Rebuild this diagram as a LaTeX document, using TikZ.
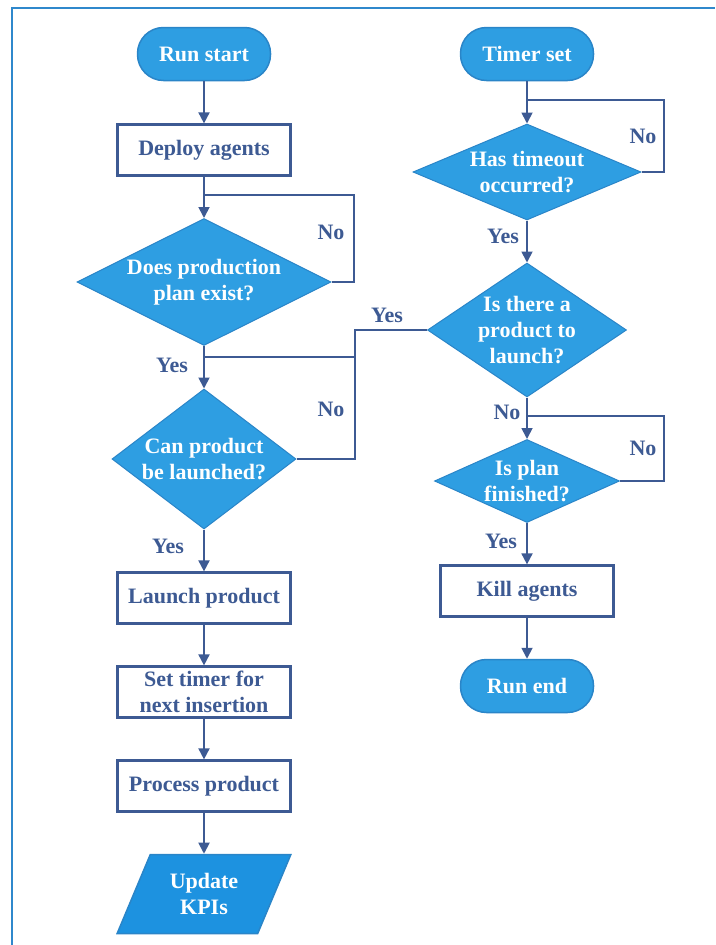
\documentclass[tikz,border=0pt]{standalone}
\usepackage{fontspec}
\setmainfont{Liberation Serif}
\usetikzlibrary{shapes.geometric,arrows.meta}
\definecolor{flowfill}{HTML}{2E9EE2}
\definecolor{flowedge}{HTML}{2A85C8}
\definecolor{inkblue}{HTML}{3D5A93}
\definecolor{kpifill}{HTML}{1D92E0}
\definecolor{framecol}{HTML}{2F88CC}
\tikzset{
  every node/.style={font=\fontsize{22}{26}\selectfont\bfseries},
  terminal/.style={rectangle, rounded corners=26pt, fill=flowfill, draw=flowedge,
    line width=1.5pt, text=white, minimum width=133pt, minimum height=53pt, inner sep=0pt},
  process/.style={rectangle, draw=inkblue, line width=2.2pt, fill=white, text=inkblue,
    minimum width=173pt, minimum height=51pt, inner sep=0pt, align=center},
  decision/.style={diamond, fill=flowfill, draw=flowedge, line width=1pt, inner sep=0pt,
    label={[text=white, align=center]center:#1}},
  dataio/.style={trapezium, trapezium left angle=63, trapezium right angle=117,
    trapezium stretches=true, fill=kpifill, draw=flowedge, line width=1.5pt,
    text=white, align=center, minimum width=174pt, minimum height=79pt, inner sep=0pt},
  flow/.style={draw=inkblue, line width=1.8pt, -{Triangle[length=11pt,width=11pt]}},
  link/.style={draw=inkblue, line width=1.8pt},
  answer/.style={text=inkblue},
}
\begin{document}
\begin{tikzpicture}[x=1pt,y=-1pt]
\useasboundingbox (0,0) rectangle (715,945);
% outer frame
\draw[framecol, line width=2pt] (11.5,945) -- (11.5,8) -- (715,8);

% left column
\node[terminal] (start) at (204,54) {Run start};
\node[process] (deploy) at (204,150) {Deploy agents};
\node[decision={Does production\\plan exist?}, minimum width=254pt, minimum height=127pt] (plan) at (204,282) {};
\node[decision={Can product\\be launched?}, minimum width=184pt, minimum height=140pt] (can) at (204,459) {};
\node[process] (launch) at (204,598) {Launch product};
\node[process] (settimer) at (204,692) {Set timer for\\next insertion};
\node[process] (procprod) at (204,786) {Process product};
\node[dataio] (kpi) at (204,894) {Update\\KPIs};

% right column
\node[terminal] (tset) at (527,54) {Timer set};
\node[decision={Has timeout\\occurred?}, minimum width=228pt, minimum height=96pt] (timeout) at (527,172) {};
\node[decision={Is there a\\product to\\launch?}, minimum width=199pt, minimum height=134pt] (there) at (527,330) {};
\node[decision={Is plan\\finished?}, minimum width=185pt, minimum height=83pt] (finished) at (527,481) {};
\node[process] (kill) at (527,591) {Kill agents};
\node[terminal] (runend) at (527,686) {Run end};

% junction points of the loops
\coordinate (j1) at (204,195);
\coordinate (r1) at (354,195);
\coordinate (r1b) at (354,282);
\coordinate (j2) at (204,357);
\coordinate (m1) at (355,357);
\coordinate (m2) at (355,330);
\coordinate (m3) at (355,459);
\coordinate (j3) at (527,100);
\coordinate (r3) at (664,100);
\coordinate (r3b) at (664,172);
\coordinate (j4) at (527,416);
\coordinate (r4) at (664,416);
\coordinate (r4b) at (664,481);

% main flow
\draw[flow] (start) -- (deploy);
\draw[flow] (deploy) -- (plan.north);
\draw[flow] (plan.south) -- (can.north);
\draw[flow] (can.south) -- (launch);
\draw[flow] (launch) -- (settimer);
\draw[flow] (settimer) -- (procprod);
\draw[flow] (procprod) -- (kpi);
\draw[flow] (tset) -- (timeout.north);
\draw[flow] (timeout.south) -- (there.north);
\draw[flow] (there.south) -- (finished.north);
\draw[flow] (finished.south) -- (kill);
\draw[flow] (kill) -- (runend);

% loops back
\draw[link] (plan.east) -- (r1b) -- (r1) -- (j1);
\draw[link] (can.east) -- (m3) -- (m2) -- (there.west);
\draw[link] (m1) -- (j2);
\draw[link] (timeout.east) -- (r3b) -- (r3) -- (j3);
\draw[link] (finished.east) -- (r4b) -- (r4) -- (j4);

% answers
\node[answer] (a1) at (331,232) {No};
\node[answer] (a2) at (172,365) {Yes};
\node[answer] (a3) at (331,409) {No};
\node[answer] (a4) at (387,315) {Yes};
\node[answer] (a5) at (168,546) {Yes};
\node[answer] (a6) at (643,136) {No};
\node[answer] (a7) at (503,236) {Yes};
\node[answer] (a8) at (507,412) {No};
\node[answer] (a9) at (643,448) {No};
\node[answer] (a10) at (501,541) {Yes};
\end{tikzpicture}
\end{document}
